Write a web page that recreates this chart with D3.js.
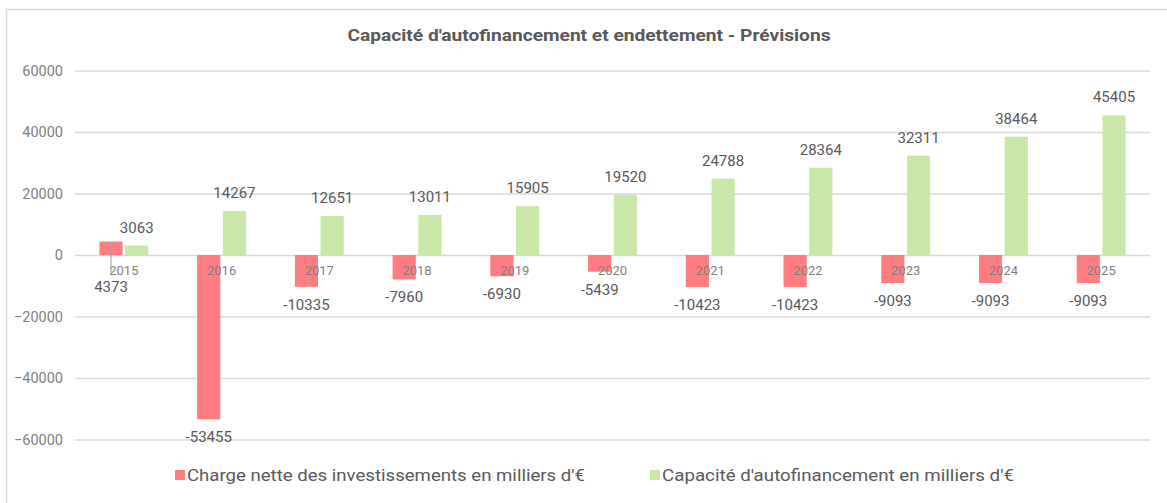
<!DOCTYPE html>
<html>
<head>
<meta charset="utf-8">
<script src="https://cdn.jsdelivr.net/npm/d3@7"></script>
<style>
  body { margin: 0; background: #fff; }
  svg { display: block; font-family: Roboto, "Liberation Sans", sans-serif; }
</style>
</head>
<body>
<div id="chart"></div>
<script>
// donnees
var years = ["2015", "2016", "2017", "2018", "2019", "2020", "2021", "2022", "2023", "2024", "2025"];
var charge = [4373, -53455, -10335, -7960, -6930, -5439, -10423, -10423, -9093, -9093, -9093];
var caf = [3063, 14267, 12651, 13011, 15905, 19520, 24788, 28364, 32311, 38464, 45405];
var yTicks = [-60000, -40000, -20000, 0, 20000, 40000, 60000];
var seriesNames = ["Charge nette des investissements en milliers d'€", "Capacité d'autofinancement en milliers d'€"];

var width = 1167, height = 503;
var margin = {top: 70, right: 17, bottom: 64, left: 75};
var colors = ["#ff7c80", "#c9e7a7"];

var svg = d3.select("#chart").append("svg").attr("width", width).attr("height", height);

// cadre
svg.append("rect")
    .attr("x", 6.5).attr("y", 9.5)
    .attr("width", 1170).attr("height", 510)
    .attr("fill", "none").attr("stroke", "#d9d9d9").attr("stroke-width", 1.5);

// titre
svg.append("text")
    .attr("x", 589).attr("y", 41)
    .attr("text-anchor", "middle")
    .attr("font-size", "17px").attr("font-weight", "bold")
    .attr("fill", "#595959")
    .attr("textLength", 483).attr("lengthAdjust", "spacingAndGlyphs")
    .text("Capacité d'autofinancement et endettement - Prévisions");

var x0 = d3.scaleBand().domain(years).range([margin.left, width - margin.right]).paddingInner(0).paddingOuter(0);
var x1 = d3.scaleBand().domain([0, 1]).range([x0.bandwidth() * 0.25, x0.bandwidth() * 0.75]).paddingInner(0.1);
var y = d3.scaleLinear().domain([-60000, 60000]).range([439.5, 70.5]);

// grille + axe y
var yAxis = d3.axisLeft(y).tickValues(yTicks).tickSize(-(width - margin.right - margin.left)).tickPadding(12).tickFormat(d3.format("d"));
var gy = svg.append("g").attr("transform", "translate(" + margin.left + ",0)").call(yAxis);
gy.select(".domain").remove();
gy.selectAll(".tick line").attr("stroke", "#d9d9d9").attr("stroke-width", 1.5);
gy.selectAll(".tick text").attr("fill", "#808080").attr("font-size", "14.5px").attr("font-family", "Roboto");

var groups = svg.selectAll(".year").data(years).enter().append("g")
    .attr("class", "year")
    .attr("transform", function (d) { return "translate(" + x0(d) + ",0)"; });

var series = [charge, caf];

// barres
series.forEach(function (vals, s) {
    groups.append("rect")
        .attr("x", x1(s))
        .attr("width", x1.bandwidth())
        .attr("y", function (d, i) { return y(Math.max(0, vals[i])); })
        .attr("height", function (d, i) { return Math.abs(y(vals[i]) - y(0)); })
        .attr("fill", colors[s]);
});

// etiquettes annees
groups.append("text")
    .attr("x", x0.bandwidth() / 2)
    .attr("y", y(0) + 20)
    .attr("text-anchor", "middle")
    .attr("font-size", "13px")
    .attr("fill", "#7f7f7f")
    .text(function (d) { return d; });

// valeurs
series.forEach(function (vals, s) {
    groups.append("text")
        .attr("x", x1(s) + x1.bandwidth() / 2)
        .attr("y", function (d, i) {
            var v = vals[i];
            if (s === 0 && v > 0) return y(0) + 37;
            return v >= 0 ? y(v) - 13 : y(v) + 23;
        })
        .attr("text-anchor", "middle")
        .attr("font-size", "15px")
        .attr("fill", "#595959")
        .text(function (d, i) { return vals[i]; });
});

// ligne de repere 2015
var lx = x0(years[0]) + x1(0) + x1.bandwidth() / 2;
svg.append("line")
    .attr("x1", lx).attr("x2", lx)
    .attr("y1", y(charge[0]) + 1).attr("y2", y(0) + 20)
    .attr("stroke", "#a6a6a6").attr("stroke-width", 1.2);

// legende
var legendX = [175, 650];
var legendW = [398, 352];
seriesNames.forEach(function (name, s) {
    svg.append("rect")
        .attr("x", legendX[s]).attr("y", 470)
        .attr("width", 10).attr("height", 10)
        .attr("fill", colors[s]);
    svg.append("text")
        .attr("x", legendX[s] + 12).attr("y", 481)
        .attr("font-size", "17px")
        .attr("fill", "#595959")
        .attr("textLength", legendW[s]).attr("lengthAdjust", "spacingAndGlyphs")
        .text(name);
});
</script>
</body>
</html>
